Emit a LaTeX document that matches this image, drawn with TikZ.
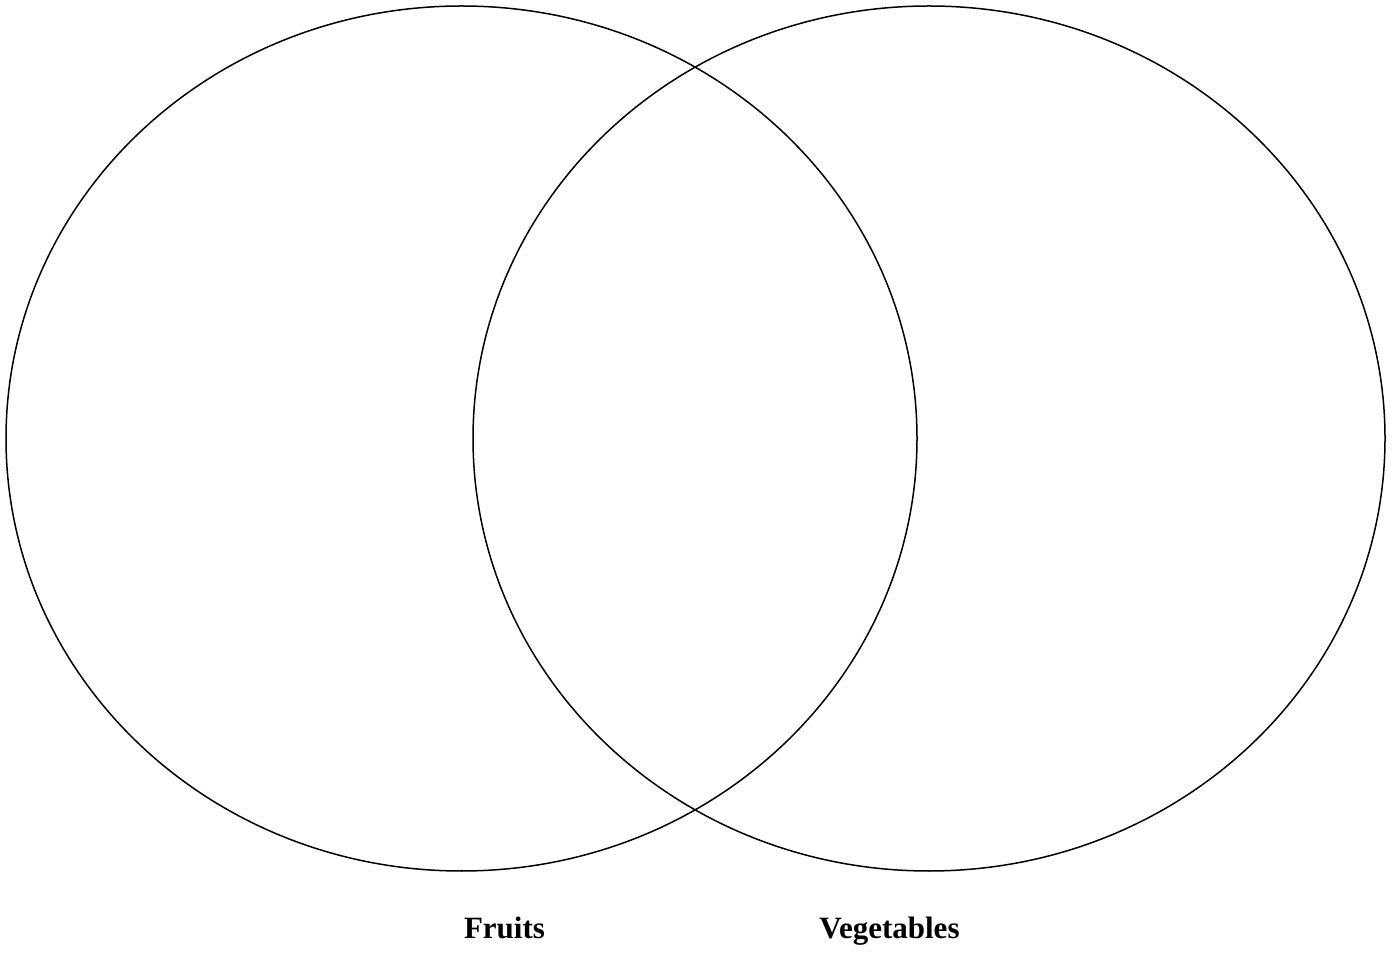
\documentclass[tikz,border=0pt]{standalone}
\usepackage{fontspec}
\setmainfont{Liberation Serif}
\begin{document}
\begin{tikzpicture}[x=1pt,y=1pt,
  venn/.style={draw=black,line width=1.5pt},
  lab/.style={font=\fontsize{31}{36}\selectfont\bfseries,anchor=base,inner sep=0pt}]
\useasboundingbox (0,0) rectangle (1396,953);
\draw[venn] (461.5,514.5) ellipse [x radius=455.5, y radius=432.5];
\draw[venn] (929,514.5) ellipse [x radius=456, y radius=432.5];
\node[lab] (fruits) at (504.5,15) {Fruits};
\node[lab] (veg) at (889.5,15) {Vegetables};
\end{tikzpicture}
\end{document}
